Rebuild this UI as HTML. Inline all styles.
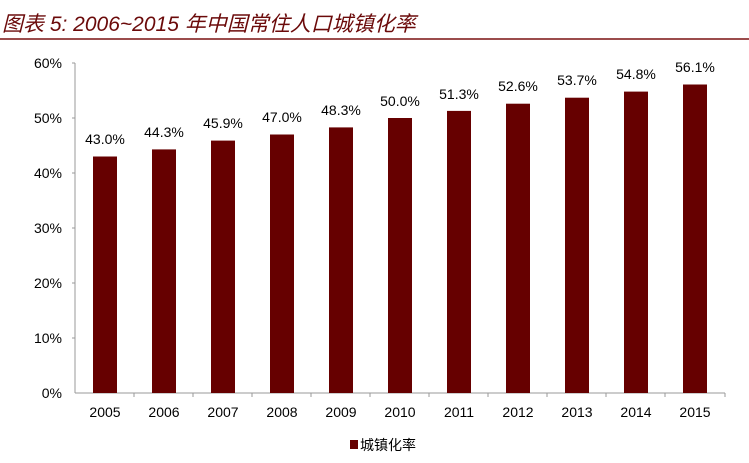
<!DOCTYPE html>
<html><head><meta charset="utf-8"><style>
body{margin:0;background:#fff;}
svg{display:block;}
</style></head><body>
<svg width="749" height="463" xmlns="http://www.w3.org/2000/svg">
<text x="2" y="31" font-family="'Liberation Sans','Noto Sans CJK SC',sans-serif" font-size="21" font-style="italic" fill="#6b0a0a">图表 5: 2006~2015 年中国常住人口城镇化率</text>
<line x1="0" y1="39" x2="749" y2="39" stroke="#7a1010" stroke-width="1.5"/>
<g font-family="'Liberation Sans',sans-serif" font-size="14" fill="#000">
<line x1="75" y1="63" x2="75" y2="393" stroke="#999"/>
<line x1="75" y1="393" x2="725" y2="393" stroke="#999"/>
<g stroke="#999">
<line x1="72" y1="63" x2="75" y2="63"/><line x1="72" y1="118" x2="75" y2="118"/><line x1="72" y1="173" x2="75" y2="173"/><line x1="72" y1="228" x2="75" y2="228"/><line x1="72" y1="283" x2="75" y2="283"/><line x1="72" y1="338" x2="75" y2="338"/>
</g>
<g text-anchor="end">
<text x="62" y="68">60%</text><text x="62" y="123">50%</text><text x="62" y="178">40%</text><text x="62" y="233">30%</text><text x="62" y="288">20%</text><text x="62" y="343">10%</text><text x="62" y="398">0%</text>
</g>
<g id="bars"></g>
</g>
<g font-family="'Liberation Sans',sans-serif" font-size="14" text-anchor="middle" fill="#000">
<rect x="93" y="156.5" width="24" height="236.5" fill="#660000"/><text x="105" y="144">43.0%</text><text x="105" y="417">2005</text>
<rect x="152" y="149.4" width="24" height="243.6" fill="#660000"/><text x="164" y="137">44.3%</text><text x="164" y="417">2006</text>
<rect x="211" y="140.6" width="24" height="252.4" fill="#660000"/><text x="223" y="128">45.9%</text><text x="223" y="417">2007</text>
<rect x="270" y="134.5" width="24" height="258.5" fill="#660000"/><text x="282" y="122">47.0%</text><text x="282" y="417">2008</text>
<rect x="329" y="127.4" width="24" height="265.6" fill="#660000"/><text x="341" y="115">48.3%</text><text x="341" y="417">2009</text>
<rect x="388" y="118" width="24" height="275" fill="#660000"/><text x="400" y="106">50.0%</text><text x="400" y="417">2010</text>
<rect x="447" y="110.9" width="24" height="282.1" fill="#660000"/><text x="459" y="99">51.3%</text><text x="459" y="417">2011</text>
<rect x="506" y="103.7" width="24" height="289.3" fill="#660000"/><text x="518" y="91">52.6%</text><text x="518" y="417">2012</text>
<rect x="565" y="97.7" width="24" height="295.3" fill="#660000"/><text x="577" y="85">53.7%</text><text x="577" y="417">2013</text>
<rect x="624" y="91.6" width="24" height="301.4" fill="#660000"/><text x="636" y="79">54.8%</text><text x="636" y="417">2014</text>
<rect x="683" y="84.5" width="24" height="308.5" fill="#660000"/><text x="695" y="72">56.1%</text><text x="695" y="417">2015</text>
</g>
<g stroke="#999">
<line x1="134" y1="393" x2="134" y2="397"/><line x1="193" y1="393" x2="193" y2="397"/><line x1="252" y1="393" x2="252" y2="397"/><line x1="311" y1="393" x2="311" y2="397"/><line x1="370" y1="393" x2="370" y2="397"/><line x1="429" y1="393" x2="429" y2="397"/><line x1="488" y1="393" x2="488" y2="397"/><line x1="547" y1="393" x2="547" y2="397"/><line x1="606" y1="393" x2="606" y2="397"/><line x1="665" y1="393" x2="665" y2="397"/><line x1="725" y1="393" x2="725" y2="397"/>
</g>
<rect x="350" y="440" width="8" height="9" fill="#660000"/>
<text x="360" y="450" font-family="'Liberation Sans','Noto Sans CJK SC',sans-serif" font-size="14" fill="#000">城镇化率</text>
</svg>
</body></html>
